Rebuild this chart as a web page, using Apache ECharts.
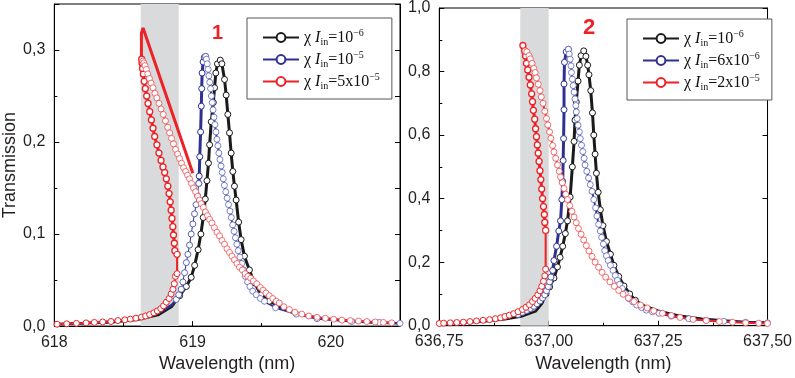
<!DOCTYPE html>
<html>
<head>
<meta charset="utf-8">
<script src="https://cdn.jsdelivr.net/npm/echarts@6/dist/echarts.min.js"></script>
<style>
  html, body { margin: 0; padding: 0; background: #fff; }
  #chart { width: 795px; height: 378px; }
</style>
</head>
<body>
<div id="chart"></div>
<script>
// ---- panel 1 (618 nm) ----
const bandL = [618.625, 618.9]
const blackL = [[618.906,0.033],[618.955,0.043],[618.99,0.053],[619.015,0.066],[619.04,0.083],[619.06,0.1],[619.077,0.118],[619.092,0.138],[619.104,0.158],[619.115,0.177],[619.123,0.197],[619.135,0.222],[619.15,0.243],[619.159,0.259],[619.168,0.275],[619.18,0.285],[619.2,0.289],[619.212,0.285],[619.231,0.268],[619.243,0.251],[619.255,0.23],[619.267,0.21],[619.279,0.188],[619.291,0.168],[619.303,0.152],[619.315,0.137],[619.333,0.113],[619.351,0.094],[619.375,0.076],[619.411,0.061],[619.447,0.047],[619.495,0.034],[619.555,0.027]]
const blackLTailA = [[618.0,0.002],[618.2,0.003],[618.4,0.004],[618.6,0.007],[618.75,0.012],[618.85,0.021],[618.906,0.033]]
const blackLTailB = [[619.555,0.027],[619.65,0.019],[619.75,0.014],[619.9,0.009],[620.1,0.006],[620.3,0.004],[620.5,0.003]]
const blueLTail = [[618.0,0.002],[618.2,0.003],[618.4,0.005],[618.6,0.008],[618.75,0.014],[618.85,0.023],[618.882,0.029]]
const blueLLow = [[618.882,0.029],[618.9,0.034],[618.918,0.04],[618.93,0.048],[618.942,0.058],[618.955,0.069],[618.966,0.078],[618.978,0.088],[618.99,0.1],[619.002,0.111],[619.014,0.122],[619.025,0.132],[619.035,0.142],[619.045,0.155]]
const blueLUp = [[619.045,0.155],[619.048,0.163],[619.052,0.184],[619.058,0.211],[619.063,0.239],[619.066,0.258],[619.069,0.275],[619.076,0.287],[619.085,0.292],[619.094,0.293]]
const blueLDown = [[619.094,0.293],[619.1,0.29],[619.106,0.285],[619.112,0.279],[619.118,0.272],[619.124,0.265],[619.13,0.258],[619.136,0.25],[619.142,0.243],[619.148,0.235],[619.155,0.227],[619.162,0.219],[619.169,0.211],[619.176,0.203],[619.183,0.196],[619.19,0.188],[619.198,0.181],[619.206,0.174],[619.214,0.167],[619.222,0.16],[619.23,0.153],[619.24,0.146],[619.25,0.139],[619.26,0.132],[619.27,0.125],[619.28,0.118],[619.29,0.11],[619.3,0.103],[619.31,0.096],[619.32,0.089],[619.33,0.082],[619.342,0.075],[619.355,0.068],[619.368,0.061],[619.382,0.054],[619.398,0.048],[619.415,0.043],[619.435,0.038],[619.46,0.034],[619.49,0.03],[619.52,0.027],[619.6,0.02],[619.75,0.013],[619.9,0.008],[620.15,0.005],[620.35,0.004],[620.5,0.003]]
const redLLow = [[618.02,0.002],[618.09,0.0025],[618.16,0.003],[618.23,0.0035],[618.29,0.004],[618.35,0.0045],[618.41,0.005],[618.46,0.006],[618.51,0.0068],[618.55,0.0076],[618.59,0.0086],[618.63,0.0098],[618.66,0.011],[618.69,0.0125],[618.72,0.0145],[618.745,0.0165],[618.77,0.019],[618.79,0.022],[618.81,0.026],[618.83,0.03],[618.845,0.035],[618.858,0.04],[618.868,0.046],[618.876,0.054],[618.888,0.057],[618.888,0.078]]
const redLUp = [[618.888,0.078],[618.872,0.082],[618.868,0.09],[618.862,0.099],[618.857,0.108],[618.851,0.117],[618.845,0.126],[618.838,0.135],[618.83,0.144],[618.821,0.152],[618.81,0.16],[618.798,0.167],[618.786,0.173],[618.772,0.18],[618.757,0.188],[618.742,0.197],[618.726,0.206],[618.714,0.215],[618.702,0.224],[618.69,0.233],[618.678,0.242],[618.668,0.25],[618.658,0.258],[618.65,0.266],[618.644,0.274],[618.638,0.28],[618.634,0.286],[618.632,0.29]]
const redLArrow = [[618.63,0.289],[618.63,0.318],[618.642,0.324],[619.002,0.166]]
const redLDown = [[618.64,0.288],[618.648,0.286],[618.656,0.283],[618.666,0.279],[618.676,0.274],[618.688,0.269],[618.7,0.264],[618.714,0.259],[618.728,0.253],[618.742,0.248],[618.757,0.242],[618.772,0.236],[618.788,0.23],[618.804,0.223],[618.82,0.216],[618.834,0.21],[618.848,0.204],[618.862,0.198],[618.877,0.192],[618.892,0.187],[618.906,0.182],[618.92,0.177],[618.935,0.172],[618.95,0.168],[618.964,0.164],[618.978,0.16],[618.992,0.155],[619.007,0.15],[619.022,0.146],[619.037,0.141],[619.05,0.137],[619.063,0.133],[619.078,0.129],[619.093,0.124],[619.108,0.12],[619.123,0.116],[619.14,0.112],[619.158,0.107],[619.176,0.102],[619.195,0.098],[619.213,0.093],[619.231,0.089],[619.249,0.084],[619.267,0.08],[619.285,0.076],[619.303,0.072],[619.321,0.068],[619.339,0.064],[619.36,0.061],[619.38,0.057],[619.4,0.054],[619.42,0.052],[619.44,0.049],[619.465,0.046],[619.49,0.042],[619.51,0.039],[619.531,0.036],[619.555,0.033],[619.58,0.03],[619.605,0.027],[619.627,0.025],[619.66,0.021],[619.7,0.018],[619.74,0.015],[619.79,0.013],[619.84,0.011],[619.9,0.0095],[619.96,0.0085],[620.02,0.0075],[620.08,0.0065],[620.14,0.006],[620.2,0.0055],[620.26,0.005],[620.32,0.0045],[620.38,0.004],[620.44,0.0035]]

// ---- panel 2 (637 nm) ----
const bandR = [636.935, 637.0]
const blackR = [[636.994,0.1],[637.002,0.122],[637.012,0.15],[637.02,0.185],[637.026,0.215],[637.032,0.25],[637.038,0.29],[637.043,0.33],[637.049,0.405],[637.054,0.5],[637.058,0.58],[637.06,0.647],[637.063,0.704],[637.067,0.77],[637.07,0.82],[637.074,0.85],[637.08,0.865],[637.085,0.848],[637.089,0.82],[637.092,0.79],[637.096,0.74],[637.1,0.67],[637.103,0.6],[637.106,0.54],[637.109,0.48],[637.113,0.42],[637.118,0.365],[637.124,0.315],[637.132,0.265],[637.141,0.225],[637.149,0.19],[637.16,0.155],[637.172,0.125],[637.185,0.1],[637.198,0.08]]
const blackRTailA = [[636.75,0.006],[636.8,0.009],[636.85,0.013],[636.9,0.02],[636.94,0.03],[636.97,0.045],[636.985,0.07],[636.994,0.1]]
const blackRTailB = [[637.198,0.08],[637.22,0.062],[637.25,0.047],[637.3,0.031],[637.35,0.022],[637.4,0.016],[637.45,0.012],[637.5,0.01]]
const blueRTail = [[636.75,0.007],[636.8,0.01],[636.85,0.015],[636.9,0.023],[636.93,0.035]]
const blueRLow = [[636.93,0.035],[636.94,0.042],[636.95,0.048],[636.958,0.054],[636.966,0.061],[636.973,0.069],[636.98,0.078],[636.986,0.087],[636.991,0.097],[636.995,0.11],[636.999,0.123],[637.002,0.138],[637.005,0.153]]
const blueRUp = [[637.005,0.153],[637.009,0.174],[637.012,0.205],[637.018,0.25],[637.023,0.298],[637.027,0.33],[637.03,0.397],[637.032,0.454],[637.033,0.52],[637.034,0.589],[637.035,0.68],[637.035,0.761],[637.036,0.829],[637.04,0.862],[637.045,0.87]]
const blueRDown = [[637.045,0.87],[637.047,0.855],[637.049,0.839],[637.051,0.818],[637.052,0.797],[637.054,0.776],[637.056,0.756],[637.058,0.735],[637.06,0.714],[637.062,0.693],[637.063,0.673],[637.065,0.652],[637.067,0.631],[637.07,0.61],[637.072,0.589],[637.075,0.568],[637.078,0.548],[637.081,0.527],[637.083,0.506],[637.087,0.486],[637.091,0.465],[637.095,0.444],[637.099,0.423],[637.103,0.397],[637.107,0.371],[637.11,0.345],[637.114,0.319],[637.118,0.298],[637.121,0.278],[637.125,0.257],[637.128,0.236],[637.132,0.22],[637.136,0.205],[637.141,0.19],[637.147,0.174],[637.152,0.158],[637.157,0.143],[637.162,0.13],[637.168,0.117],[637.175,0.101],[637.183,0.085],[637.192,0.075],[637.201,0.065],[637.212,0.057],[637.223,0.049],[637.237,0.044],[637.252,0.039],[637.28,0.03],[637.32,0.022],[637.36,0.017],[637.4,0.014],[637.45,0.011],[637.5,0.009]]
const redRLow = [[636.75,0.007],[636.76,0.008],[636.775,0.009],[636.79,0.01],[636.805,0.011],[636.82,0.013],[636.835,0.015],[636.85,0.017],[636.865,0.019],[636.878,0.022],[636.89,0.025],[636.9,0.029],[636.91,0.033],[636.92,0.038],[636.93,0.044],[636.94,0.051],[636.948,0.058],[636.956,0.066],[636.963,0.076],[636.969,0.086],[636.975,0.097],[636.98,0.11],[636.984,0.124],[636.988,0.14],[636.991,0.157],[636.993,0.178],[636.993,0.3]]
const redRUp = [[636.993,0.3],[636.991,0.325],[636.99,0.35],[636.988,0.375],[636.986,0.4],[636.984,0.43],[636.982,0.46],[636.98,0.488],[636.978,0.517],[636.976,0.543],[636.974,0.569],[636.972,0.595],[636.97,0.62],[636.968,0.65],[636.965,0.678],[636.963,0.705],[636.961,0.73],[636.958,0.758],[636.955,0.782],[636.952,0.805],[636.949,0.826],[636.947,0.849],[636.945,0.865],[636.941,0.882]]
const redRDown = [[636.946,0.865],[636.95,0.862],[636.955,0.85],[636.958,0.84],[636.962,0.826],[636.966,0.81],[636.969,0.797],[636.972,0.78],[636.976,0.76],[636.98,0.74],[636.983,0.72],[636.987,0.7],[636.991,0.675],[636.995,0.652],[636.998,0.632],[637.002,0.61],[637.005,0.59],[637.009,0.567],[637.012,0.547],[637.016,0.527],[637.02,0.506],[637.024,0.486],[637.027,0.468],[637.031,0.45],[637.035,0.432],[637.039,0.414],[637.043,0.397],[637.048,0.378],[637.053,0.36],[637.058,0.342],[637.063,0.324],[637.068,0.306],[637.074,0.288],[637.08,0.27],[637.086,0.252],[637.092,0.235],[637.099,0.218],[637.106,0.2],[637.114,0.184],[637.122,0.168],[637.13,0.153],[637.14,0.138],[637.15,0.124],[637.16,0.111],[637.17,0.099],[637.182,0.087],[637.195,0.076],[637.21,0.065],[637.225,0.056],[637.24,0.047],[637.26,0.039],[637.28,0.032],[637.3,0.026],[637.33,0.02],[637.36,0.016],[637.39,0.013],[637.42,0.011],[637.45,0.009],[637.48,0.008],[637.5,0.007]]

// legend texts: [mantissa, exponent]
const legendL = { L1: ['10', '−6'], L2: ['10', '−5'], L3: ['5x10', '−5'] }
const legendR = { R1: ['10', '−6'], R2: ['6x10', '−6'], R3: ['2x10', '−5'] }
const panelNumbers = ['1', '2']

const BLACK = '#1a1a1a'
const BLUE = '#2e3192'
const RED = '#ec2227'
const FONT = 'Liberation Sans, Arial, sans-serif'
const SERIF = 'Liberation Serif, Times New Roman, serif'

function curve (name, data, panel, color, o) {
  return {
    name: name,
    type: 'line',
    xAxisIndex: panel,
    yAxisIndex: panel * 2,
    data: data,
    symbol: o.size ? 'circle' : 'none',
    showSymbol: !!o.size,
    symbolSize: o.size || 0,
    lineStyle: { color: color, width: o.width },
    itemStyle: { color: '#fff', borderColor: o.mark || color, borderWidth: o.bw || 1 },
    emphasis: { disabled: true },
    animation: false,
    markArea: o.band ? {
      silent: true,
      itemStyle: { color: '#d9dadb' },
      data: [[{ xAxis: o.band[0] }, { xAxis: o.band[1] }]]
    } : undefined
  }
}

function comma (d) {
  return function (v) { return v.toFixed(d).replace('.', ',') }
}

function xAxis (grid, min, max, step, d) {
  return {
    gridIndex: grid, type: 'value', min: min, max: max, interval: step,
    axisLine: { lineStyle: { color: '#000', width: 1 } },
    axisTick: { inside: true, length: 5, lineStyle: { color: '#000' } },
    minorTick: { show: true, splitNumber: 2, length: 3, lineStyle: { color: '#000' } },
    splitLine: { show: false },
    axisLabel: { formatter: comma(d), color: '#231f20', fontSize: 16, fontFamily: FONT, margin: 8, showMaxLabel: grid === 1 },
    name: 'Wavelength (nm)', nameLocation: 'middle', nameGap: 27,
    nameTextStyle: { color: '#231f20', fontSize: 18, fontFamily: FONT }
  }
}

function yAxis (grid, max, step, side, labels) {
  return {
    gridIndex: grid, type: 'value', min: 0, max: max, interval: step, position: side,
    axisLine: { show: true, lineStyle: { color: '#000', width: 1 } },
    axisTick: { show: true, inside: true, length: 5, lineStyle: { color: '#000' } },
    minorTick: { show: labels, splitNumber: 2, length: 3, lineStyle: { color: '#000' } },
    splitLine: { show: false },
    axisLabel: { show: labels, formatter: comma(1), color: '#231f20', fontSize: 16, fontFamily: FONT, margin: 9, showMaxLabel: max === 1 },
    name: labels && grid === 0 ? 'Transmission' : '', nameLocation: 'middle', nameGap: 32,
    nameTextStyle: { color: '#231f20', fontSize: 18, fontFamily: FONT }
  }
}

function legend (names, map, left, top) {
  return {
    orient: 'vertical', left: left, top: top, data: names,
    itemWidth: 36, itemHeight: 11, itemGap: 3,
    padding: [10, 12, 8, 15],
    borderColor: '#555', borderWidth: 1, backgroundColor: '#fff',
    selectedMode: false,
    formatter: function (name) {
      return '{g|χ }{i|I}{s|in}{t|=' + map[name][0] + '}{p|' + map[name][1] + '}'
    },
    textStyle: {
      color: '#111',
      rich: {
        g: { fontFamily: SERIF, fontSize: 16, lineHeight: 19 },
        i: { fontFamily: SERIF, fontSize: 16, fontStyle: 'italic', lineHeight: 19 },
        s: { fontFamily: SERIF, fontSize: 10, lineHeight: 10, verticalAlign: 'bottom' },
        t: { fontFamily: SERIF, fontSize: 16, lineHeight: 19 },
        p: { fontFamily: SERIF, fontSize: 10, lineHeight: 10, verticalAlign: 'top' }
      }
    }
  }
}

const chart = echarts.init(document.getElementById('chart'), null, { renderer: 'canvas' })
chart.setOption({
  animation: false,
  backgroundColor: '#fff',
  title: [
    { text: panelNumbers[0], left: 212, top: 23, padding: 0, textStyle: { color: RED, fontSize: 20, fontWeight: 'bold', fontFamily: FONT } },
    { text: panelNumbers[1], left: 583, top: 17, padding: 0, textStyle: { color: RED, fontSize: 22, fontWeight: 'bold', fontFamily: FONT } }
  ],
  grid: [
    { left: 54.3, top: 4, width: 345.7, height: 322.7, show: true, borderColor: '#000', borderWidth: 1, backgroundColor: 'transparent' },
    { left: 439.3, top: 5, width: 345, height: 320.7, show: true, borderColor: '#000', borderWidth: 1, backgroundColor: 'transparent' }
  ],
  xAxis: [xAxis(0, 618, 620.5, 1, 0), xAxis(1, 636.75, 637.5, 0.25, 2)],
  yAxis: [
    yAxis(0, 0.35, 0.1, 'left', true),
    yAxis(0, 0.35, 0.05, 'right', false),
    yAxis(1, 1, 0.2, 'left', true),
    yAxis(1, 1, 0.2, 'right', false)
  ],
  legend: [
    legend(['L1', 'L2', 'L3'], legendL, 247, 18),
    legend(['R1', 'R2', 'R3'], legendR, 627, 19)
  ],
  series: [
    curve('L1', blackL, 0, BLACK, { size: 6, width: 3, band: bandL }),
    curve('L1', blackLTailA, 0, BLACK, { width: 2.5 }),
    curve('L1', blackLTailB, 0, BLACK, { width: 2.5 }),
    curve('L2', blueLUp, 0, BLUE, { size: 6, width: 3 }),
    curve('L2', blueLTail, 0, BLUE, { width: 2.5 }),
    curve('L2', blueLLow, 0, BLUE, { size: 6, width: 1, mark: '#4a52b0', bw: 0.9 }),
    curve('L2', blueLDown, 0, BLUE, { size: 6, width: 2, mark: '#5a62bd', bw: 0.8 }),
    curve('L3', redLUp, 0, RED, { size: 6, width: 3, bw: 1.3 }),
    curve('L3', redLLow, 0, RED, { size: 6, width: 2, bw: 1 }),
    curve('L3', redLArrow, 0, RED, { width: 3 }),
    curve('L3', redLDown, 0, RED, { size: 6, width: 2, mark: '#f04a4e', bw: 0.8 }),

    curve('R1', blackR, 1, BLACK, { size: 6, width: 3, band: bandR }),
    curve('R1', blackRTailA, 1, BLACK, { width: 2.5 }),
    curve('R1', blackRTailB, 1, BLACK, { width: 2.5 }),
    curve('R2', blueRUp, 1, BLUE, { size: 6, width: 3 }),
    curve('R2', blueRTail, 1, BLUE, { width: 2.5 }),
    curve('R2', blueRLow, 1, BLUE, { size: 6, width: 1, mark: '#4a52b0', bw: 0.9 }),
    curve('R2', blueRDown, 1, BLUE, { size: 6, width: 2, mark: '#5a62bd', bw: 0.8 }),
    curve('R3', redRUp, 1, RED, { size: 6, width: 3, bw: 1.3 }),
    curve('R3', redRLow, 1, RED, { size: 6, width: 2, bw: 1 }),
    curve('R3', redRDown, 1, RED, { size: 6, width: 2, mark: '#f04a4e', bw: 0.8 })
  ]
})
</script>
</body>
</html>
